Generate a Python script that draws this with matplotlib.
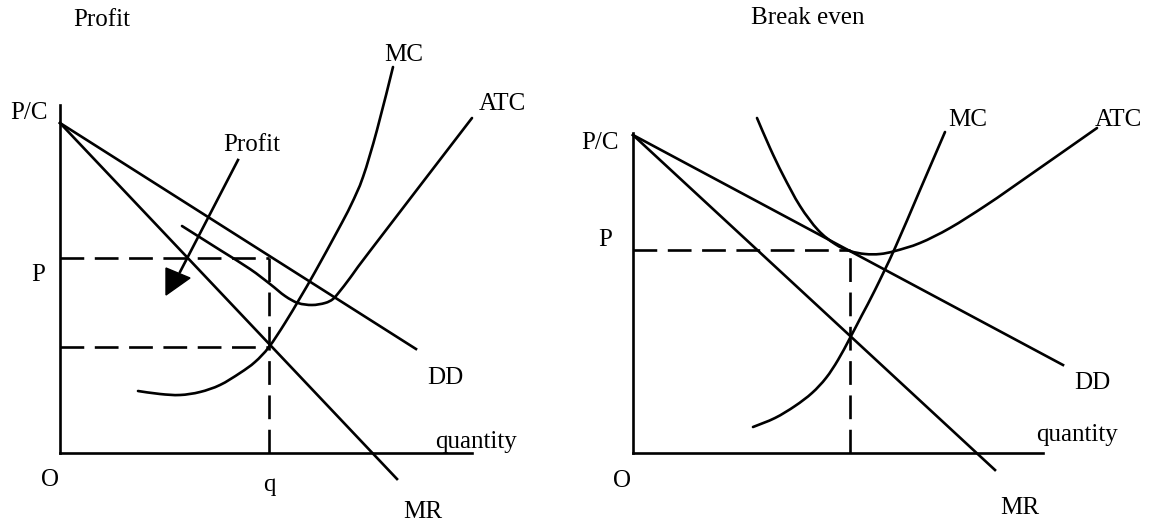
import matplotlib
matplotlib.use("Agg")
import matplotlib.pyplot as plt
from matplotlib.path import Path
from matplotlib.patches import PathPatch

plt.rcParams['font.family'] = ['Liberation Serif', 'DejaVu Serif']

# ---- left panel: Profit (units: quantity / price from origin O) ----
l_dd_x = [0, 356]
l_dd_y = [330, 104]
l_mr_x = [0, 337]
l_mr_y = [330, -26]
l_mc_x = [78, 100, 120, 140, 160, 180, 195, 209, 225, 240, 255, 278, 291, 303, 317, 333]
l_mc_y = [62, 59, 58, 61, 68, 80, 91, 106, 130, 155, 181, 223, 248, 276, 323, 386]
l_atc_x = [122, 160, 190, 210, 225, 238, 252, 265, 273, 280, 290, 310, 412]
l_atc_y = [227, 203, 184, 169, 157, 150, 148, 150, 154, 162, 175, 202, 335]
l_price = 195
l_cost = 106
l_q = 209
l_axis_x = 412
l_axis_y = 348
l_arrow_x = [178, 120]
l_arrow_y = [293, 181]
l_head_x = [106, 106, 130]
l_head_y = [185, 158, 175]

# ---- right panel: Break even ----
r_dd_x = [0, 430]
r_dd_y = [318, 88]
r_mr_x = [0, 362]
r_mr_y = [318, -17]
r_mc_x = [120, 142, 162, 179, 193, 205, 217, 229, 242, 262, 287, 312]
r_mc_y = [26, 35, 47, 60, 75, 93, 115, 138, 163, 205, 263, 321]
r_atc_x = [124, 137, 150, 167, 185, 202, 217, 232, 247, 262, 287, 317, 352, 384, 464]
r_atc_y = [335, 305, 278, 247, 223, 209, 202, 199, 199, 202, 210, 225, 247, 269, 325]
r_price = 203
r_q = 217
r_axis_x = 410
r_axis_y = 320

lw = 1.9
dash = (0, (9, 4))
fs = 18


def smooth_curve(ax, xs, ys):
    # curve through the read points, drawn as cubic Bezier segments
    pts = list(zip(xs, ys))
    verts = [pts[0]]
    codes = [Path.MOVETO]
    for i in range(len(pts) - 1):
        p0 = pts[i - 1] if i > 0 else pts[i]
        p1 = pts[i]
        p2 = pts[i + 1]
        p3 = pts[i + 2] if i + 2 < len(pts) else pts[i + 1]
        c1 = (p1[0] + (p2[0] - p0[0]) / 6, p1[1] + (p2[1] - p0[1]) / 6)
        c2 = (p2[0] - (p3[0] - p1[0]) / 6, p2[1] - (p3[1] - p1[1]) / 6)
        verts += [c1, c2, p2]
        codes += [Path.CURVE4] * 3
    ax.add_patch(PathPatch(Path(verts, codes), facecolor='none',
                           edgecolor='black', lw=lw, capstyle='round'))


fig = plt.figure(figsize=(11.53, 5.27), dpi=100)
ax1 = fig.add_axes([0, 0, 576 / 1153, 1])
ax2 = fig.add_axes([576 / 1153, 0, 577 / 1153, 1])
ax1.set_xlim(-60, 516)
ax1.set_ylim(-74, 453)
ax2.set_xlim(-57, 520)
ax2.set_ylim(-74, 453)
for ax in (ax1, ax2):
    ax.axis('off')

# left
ax1.plot([0, 0], [0, l_axis_y], color='black', lw=lw)
ax1.plot([0, l_axis_x], [0, 0], color='black', lw=lw)
ax1.plot(l_dd_x, l_dd_y, color='black', lw=lw)
ax1.plot(l_mr_x, l_mr_y, color='black', lw=lw)
smooth_curve(ax1, l_mc_x, l_mc_y)
smooth_curve(ax1, l_atc_x, l_atc_y)
ax1.plot([0, l_q], [l_price, l_price], color='black', lw=lw, ls=dash)
ax1.plot([0, l_q], [l_cost, l_cost], color='black', lw=lw, ls=dash)
ax1.plot([l_q, l_q], [0, l_price], color='black', lw=lw, ls=dash)
ax1.plot(l_arrow_x, l_arrow_y, color='black', lw=lw)
ax1.fill(l_head_x, l_head_y, color='black')

ax1.text(42, 433, 'Profit', fontsize=fs, ha='center', va='center')
ax1.text(-31, 340, 'P/C', fontsize=fs, ha='center', va='center')
ax1.text(-22, 178, 'P', fontsize=fs, ha='center', va='center')
ax1.text(-10, -27, 'O', fontsize=fs, ha='center', va='center')
ax1.text(l_q, -32, 'q', fontsize=fs, ha='center', va='center')
ax1.text(363, -59, 'MR', fontsize=fs, ha='center', va='center')
ax1.text(385, 75, 'DD', fontsize=fs, ha='center', va='center')
ax1.text(416, 11, 'quantity', fontsize=fs, ha='center', va='center')
ax1.text(344, 398, 'MC', fontsize=fs, ha='center', va='center')
ax1.text(442, 349, 'ATC', fontsize=fs, ha='center', va='center')
ax1.text(192, 308, 'Profit', fontsize=fs, ha='center', va='center')

# right
ax2.plot([0, 0], [0, r_axis_y], color='black', lw=lw)
ax2.plot([0, r_axis_x], [0, 0], color='black', lw=lw)
ax2.plot(r_dd_x, r_dd_y, color='black', lw=lw)
ax2.plot(r_mr_x, r_mr_y, color='black', lw=lw)
smooth_curve(ax2, r_mc_x, r_mc_y)
smooth_curve(ax2, r_atc_x, r_atc_y)
ax2.plot([0, r_q], [r_price, r_price], color='black', lw=lw, ls=dash)
ax2.plot([r_q, r_q], [0, r_price], color='black', lw=lw, ls=dash)

ax2.text(175, 435, 'Break even', fontsize=fs, ha='center', va='center')
ax2.text(-33, 310, 'P/C', fontsize=fs, ha='center', va='center')
ax2.text(-28, 213, 'P', fontsize=fs, ha='center', va='center')
ax2.text(-11, -28, 'O', fontsize=fs, ha='center', va='center')
ax2.text(387, -55, 'MR', fontsize=fs, ha='center', va='center')
ax2.text(459, 70, 'DD', fontsize=fs, ha='center', va='center')
ax2.text(444, 18, 'quantity', fontsize=fs, ha='center', va='center')
ax2.text(335, 333, 'MC', fontsize=fs, ha='center', va='center')
ax2.text(485, 333, 'ATC', fontsize=fs, ha='center', va='center')

fig.savefig('out.png', dpi=100)
